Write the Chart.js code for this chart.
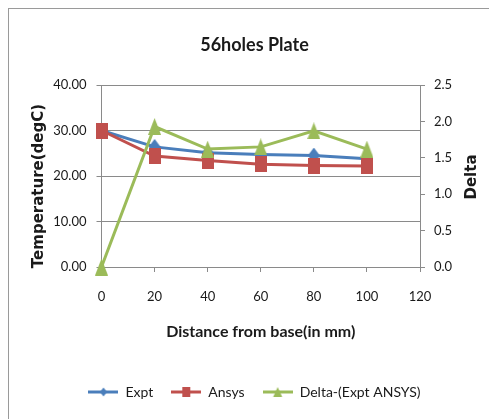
<!DOCTYPE html>
<html>
<head>
<meta charset="utf-8">
<script src="https://cdn.jsdelivr.net/npm/chart.js@4"></script>
<style>
  html, body { margin: 0; padding: 0; background: #fff; }
  #wrap { position: relative; width: 489px; height: 419px; }
</style>
</head>
<body>
<div id="wrap"><canvas id="chart" width="489" height="419"></canvas></div>
<script>
// Distance from the plate base (mm)
const distances = [0, 20, 40, 60, 80, 100];
// Measured temperatures (degC)
const exptTemps = [30.0, 26.4, 25.1, 24.7, 24.5, 23.8];
// Simulated temperatures (degC)
const ansysTemps = [30.0, 24.4, 23.4, 22.6, 22.3, 22.2];
// Difference between measurement and simulation
const deltaValues = [0.0, 1.93, 1.62, 1.65, 1.87, 1.62];

// Axis tick labels
const distanceTicks = ['0', '20', '40', '60', '80', '100', '120'];
const tempTicks = ['0.00', '10.00', '20.00', '30.00', '40.00'];
const deltaTicks = ['0.0', '0.5', '1.0', '1.5', '2.0', '2.5'];

const seriesNames = ['Expt', 'Ansys', 'Delta-(Expt ANSYS)'];
const seriesColors = ['#4A7EBB', '#C0504D', '#9BBB59'];

// Marker sprites: shape drawn into a small canvas
function drawShape(ctx, shape, cx, cy, w, h, color) {
  ctx.fillStyle = color;
  ctx.beginPath();
  if (shape === 'square') {
    ctx.rect(cx - w / 2, cy - h / 2, w, h);
  } else if (shape === 'diamond') {
    ctx.moveTo(cx, cy - h / 2);
    ctx.lineTo(cx + w / 2, cy);
    ctx.lineTo(cx, cy + h / 2);
    ctx.lineTo(cx - w / 2, cy);
    ctx.closePath();
  } else {
    ctx.moveTo(cx, cy - h / 2);
    ctx.lineTo(cx + w / 2, cy + h / 2);
    ctx.lineTo(cx - w / 2, cy + h / 2);
    ctx.closePath();
  }
  ctx.fill();
}
function makeMarker(shape, color, w, h) {
  const c = document.createElement('canvas');
  c.width = w; c.height = h;
  drawShape(c.getContext('2d'), shape, w / 2, h / 2, w, h, color);
  return c;
}
function makeLegendIcon(shape, color, w, h) {
  const c = document.createElement('canvas');
  c.width = 30; c.height = 14;
  const ctx = c.getContext('2d');
  ctx.strokeStyle = color;
  ctx.lineWidth = 3;
  ctx.beginPath();
  ctx.moveTo(0, 7); ctx.lineTo(30, 7);
  ctx.stroke();
  drawShape(ctx, shape, 15, 7, w, h, color);
  return c;
}

const markers = [
  makeMarker('diamond', seriesColors[0], 12, 16),
  makeMarker('square', seriesColors[1], 12, 16),
  makeMarker('triangle', seriesColors[2], 13, 17)
];
const legendIcons = [
  makeLegendIcon('diamond', seriesColors[0], 7, 9),
  makeLegendIcon('square', seriesColors[1], 8, 10),
  makeLegendIcon('triangle', seriesColors[2], 9, 10)
];

function toPoints(values) {
  return distances.map((d, i) => ({ x: d, y: values[i] }));
}

const GRID = '#8a8a8a';
const TEXT = '#1a1a1a';
const tickFont = { family: 'Lato, "Liberation Sans", sans-serif', size: 13 };

// Frame round the chart and the two vertical axis titles
const framePlugin = {
  id: 'frame',
  beforeDraw(chart) {
    const ctx = chart.ctx;
    ctx.save();
    ctx.fillStyle = '#fff';
    ctx.fillRect(0, 0, chart.width, chart.height);
    ctx.strokeStyle = '#9a9a9a';
    ctx.lineWidth = 1;
    ctx.strokeRect(8.5, 8.5, chart.width + 10, chart.height + 10);
    ctx.restore();
  },
  afterDraw(chart) {
    const ctx = chart.ctx;
    ctx.save();
    ctx.fillStyle = TEXT;
    ctx.font = 'bold 15px "DejaVu Sans", sans-serif';
    ctx.textAlign = 'center';
    ctx.textBaseline = 'middle';
    ctx.translate(39, 186);
    ctx.rotate(-Math.PI / 2);
    ctx.fillText('Temperature(degC)', 0, 0);
    ctx.restore();
    ctx.save();
    ctx.fillStyle = TEXT;
    ctx.font = 'bold 15px "DejaVu Sans", sans-serif';
    ctx.textAlign = 'center';
    ctx.textBaseline = 'middle';
    ctx.translate(472, 177);
    ctx.rotate(-Math.PI / 2);
    ctx.fillText('Delta', 0, 0);
    ctx.restore();
  }
};

const seriesValues = [exptTemps, ansysTemps, deltaValues];
const datasets = seriesValues.map((vals, i) => ({
  label: seriesNames[i],
  data: toPoints(vals),
  yAxisID: i === 2 ? 'y1' : 'y',
  borderColor: seriesColors[i],
  backgroundColor: seriesColors[i],
  borderWidth: 3,
  pointStyle: markers[i],
  pointRadius: 6,
  pointHoverRadius: 6,
  tension: 0,
  clip: false,
  order: 3 - i
}));

new Chart(document.getElementById('chart'), {
  type: 'line',
  data: { datasets },
  plugins: [framePlugin],
  options: {
    responsive: false,
    animation: false,
    devicePixelRatio: 1,
    layout: { padding: { left: 20, right: 0, top: 0, bottom: 10 } },
    plugins: {
      tooltip: { enabled: false },
      title: {
        display: true,
        text: '56holes Plate',
        color: TEXT,
        font: { family: 'Lato, "Liberation Sans", sans-serif', size: 18, weight: 'bold' },
        padding: { top: 34.2, bottom: 29.2 }
      },
      legend: {
        position: 'bottom',
        labels: {
          usePointStyle: true,
          pointStyleWidth: 30,
          padding: 18,
          color: TEXT,
          font: { family: 'Lato, "Liberation Sans", sans-serif', size: 14 },
          sort: (a, b) => a.datasetIndex - b.datasetIndex,
          generateLabels(chart) {
            return Chart.defaults.plugins.legend.labels.generateLabels(chart).map(l => {
              l.pointStyle = legendIcons[l.datasetIndex];
              return l;
            });
          }
        }
      }
    },
    scales: {
      x: {
        type: 'linear',
        min: 0,
        max: 120,
        ticks: {
          stepSize: 20,
          color: TEXT,
          font: tickFont,
          padding: 17,
          maxRotation: 0,
          callback: (v) => distanceTicks[distances.indexOf(v) >= 0 ? distances.indexOf(v) : 6]
        },
        grid: { drawOnChartArea: false, drawTicks: true, tickLength: 5, color: GRID },
        border: { color: GRID },
        title: {
          display: true,
          text: 'Distance from base(in mm)',
          color: TEXT,
          font: { family: 'Lato, "Liberation Sans", sans-serif', size: 16, weight: 'bold' },
          padding: { top: 0, bottom: 25.4 }
        },
        afterFit(scale) { scale.height = 100; }
      },
      y: {
        position: 'left',
        min: 0,
        max: 40,
        ticks: {
          stepSize: 10,
          color: TEXT,
          font: tickFont,
          padding: 10,
          callback: (v) => tempTicks[Math.round(v / 10)]
        },
        grid: { color: GRID, tickLength: 5, tickColor: GRID },
        border: { color: GRID },
        afterFit(scale) { scale.width = 81.5; }
      },
      y1: {
        position: 'right',
        min: 0,
        max: 2.5,
        ticks: {
          stepSize: 0.5,
          color: TEXT,
          font: tickFont,
          padding: 9,
          callback: (v) => deltaTicks[Math.round(v / 0.5)]
        },
        grid: { drawOnChartArea: false, tickLength: 5, color: GRID },
        border: { color: GRID },
        afterFit(scale) { scale.width = 69; }
      }
    }
  }
});
</script>
</body>
</html>
